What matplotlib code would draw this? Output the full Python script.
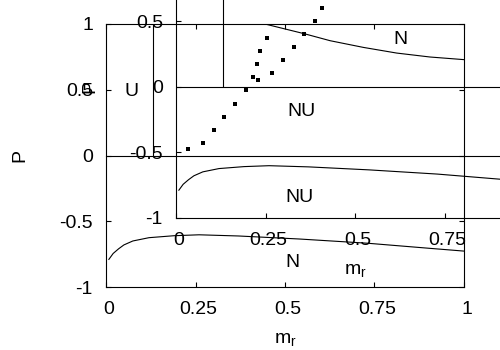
import matplotlib
matplotlib.use('Agg')
import matplotlib.pyplot as plt
import matplotlib.transforms as mtransforms

plt.rcParams['font.family'] = ['Liberation Sans', 'DejaVu Sans']
plt.rcParams['mathtext.default'] = 'regular'
plt.rcParams['axes.unicode_minus'] = False

# ---- data ----
mr_ticks = [0, 0.25, 0.5, 0.75, 1]
mr_ticklabels = ['0', '0.25', '0.5', '0.75', '1']
p_ticks = [-1, -0.5, 0, 0.5, 1]
p_ticklabels = ['-1', '-0.5', '0', '0.5', '1']

# lower phase boundary (present in both panels)
lower_mr = [0.008, 0.02, 0.035, 0.05, 0.075, 0.12, 0.19, 0.26, 0.37, 0.54, 0.73, 0.90, 1.0]
lower_p = [-0.79, -0.745, -0.71, -0.68, -0.65, -0.625, -0.61, -0.603, -0.612, -0.635, -0.667, -0.705, -0.727]

# upper phase boundary (main panel)
upper_mr = [0.444, 0.554, 0.626, 0.719, 0.812, 0.905, 1.0]
upper_p = [1.0, 0.926, 0.873, 0.822, 0.779, 0.749, 0.729]

# data points (second panel)
dots_mr = [0.034, 0.075, 0.105, 0.135, 0.165, 0.196, 0.215, 0.229, 0.225,
           0.235, 0.255, 0.269, 0.299, 0.330, 0.358, 0.388, 0.409]
dots_p = [-0.478, -0.427, -0.328, -0.229, -0.130, -0.027, 0.072, 0.051, 0.173,
          0.273, 0.372, 0.102, 0.202, 0.301, 0.402, 0.502, 0.603]

boundary_mr = 0.13          # vertical boundary, from P=0 to P=1
zero_line_end = 1.1         # main zero line runs past the right border

main_labels = [('U', 0.07, 0.5), ('N', 0.522, -0.8), ('N', 0.822, 0.9)]
inset_labels = [('NU', 0.349, -0.174), ('NU', 0.346, -0.829)]

# ---- figure ----
fig = plt.figure(figsize=(5, 3.5), dpi=100)
ax = fig.add_axes([106 / 500, 1 - 287 / 350, 358 / 500, 263 / 350])
ins = fig.add_axes([176 / 500, 1 - 217.7 / 350, 358 / 500, 262 / 350])

FS = 14
shift = mtransforms.ScaledTranslation(0.03, 0, fig.dpi_scale_trans)


def style(a):
    a.set_xlim(0, 1)
    a.set_ylim(-1, 1)
    a.set_xticks(mr_ticks, mr_ticklabels)
    a.set_yticks(p_ticks, p_ticklabels)
    a.tick_params(direction='in', top=True, right=True, length=3.5, width=0.8,
                  labelsize=FS, colors='black')
    a.tick_params(axis='x', pad=10)
    a.tick_params(axis='y', pad=9.4)
    for lab in a.get_xticklabels():
        lab.set_transform(lab.get_transform() + shift)
    a.patch.set_visible(False)
    for s in a.spines.values():
        s.set_linewidth(0.8)
        s.set_color('black')
    a.set_xlabel('$m_r$', fontsize=FS, va='baseline')
    a.xaxis.set_label_coords(0.5, -0.213)
    a.set_ylabel('P', fontsize=FS, va='center', ha='center')
    a.yaxis.set_label_coords(-0.24, 0.5)
    a.vlines(boundary_mr, 0, 1, color='black', lw=0.8)
    a.plot(lower_mr, lower_p, color='black', lw=0.8)


style(ax)
style(ins)

# main panel extras
ax.plot([0, zero_line_end], [0, 0], color='black', lw=0.8, clip_on=False)
ax.plot(upper_mr, upper_p, color='black', lw=0.8)
for t, x, y in main_labels:
    ax.text(x, y, t, fontsize=FS, ha='center', va='center_baseline')

# second panel extras
ins.axhline(0, color='black', lw=0.8)
ins.plot(dots_mr, dots_p, 's', color='black', ms=3.2, mew=0, clip_on=False)
for t, x, y in inset_labels:
    ins.text(x, y, t, fontsize=FS, ha='center', va='center_baseline')

fig.savefig('out.png', dpi=100)
